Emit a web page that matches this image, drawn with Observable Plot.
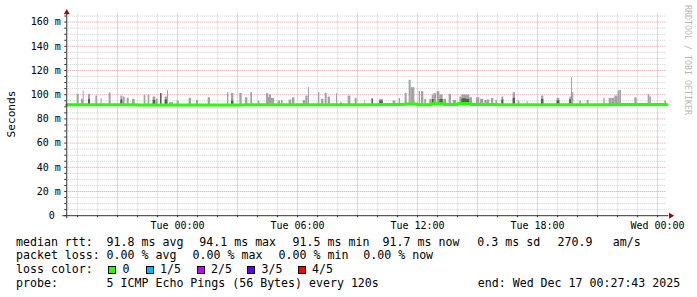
<!DOCTYPE html>
<html><head><meta charset="utf-8">
<script src="https://cdn.jsdelivr.net/npm/d3@7"></script>
<script src="https://cdn.jsdelivr.net/npm/@observablehq/plot@0.6"></script>
<style>
html,body{margin:0;padding:0;background:#fff;}
#wrap{position:relative;width:697px;height:297px;overflow:hidden;font-family:"DejaVu Sans Mono",monospace;background:#fff;}
#chart svg{display:block;}
.lg{position:absolute;font-size:11.6px;line-height:14px;white-space:pre;color:#000;}
.sw{position:absolute;box-sizing:border-box;width:8px;height:8px;border:1px solid #000;}
.ylab{position:absolute;font-size:11.2px;white-space:pre;color:#000;transform:translate(-50%,-50%) rotate(-90deg);}
.wm{position:absolute;font-size:8.3px;white-space:pre;color:#b8b8b8;transform:translate(-50%,-50%) rotate(90deg);}
</style></head><body>
<div id="wrap"><div id="chart"></div><div id="legend"></div></div>
<script>
// ---- time axis (minutes relative to Tue Dec 16 2025 00:00) ----
const xDomain = [-332.28, 1467.72]; // Mon 18:27:43 .. Wed 00:27:43
const yDomain = [0, 166.7];
const xTickMinutes = [0, 360, 720, 1080, 1440];
const xTickLabels = ["Tue 00:00", "Tue 06:00", "Tue 12:00", "Tue 18:00", "Wed 00:00"];
const yTickValues = [0, 20, 40, 60, 80, 100, 120, 140, 160];
const yTickLabels = ["0\u00a0", "20 m", "40 m", "60 m", "80 m", "100 m", "120 m", "140 m", "160 m"];

// ---- smoke spikes (start minute, width minutes, max ms, inner dark ms) ----
const spikeStart = [
  -301,-288,-283,-267,-245,-229,-205,-170,-163,-151,
  -135,-100,-88,-73,-63,-50,-37,-30,-24,-1,
  35,57,92,150,162,187,204,220,242,267,
  273,275,282,302,312,335,345,377,385,393,
  423,432,443,452,477,490,512,533,561,584,
  607,647,665,683,695,701,725,732,742,757,
  764,770,779,787,799,815,827,847,853,867,
  877,897,909,922,929,942,955,973,1007,1022,
  1049,1092,1139,1177,1182,1185,1207,1229,1279,1295,
  1303,1312,1322,1327,1372,1412,1417,1462];
const spikeWidth = [
  6,6,3,6,5,3,6,6,6,6,
  8,5,5,8,5,3,7,3,12,6,
  7,6,7,4,7,7,7,5,5,6,
  3,7,9,7,5,8,7,8,7,3,
  4,7,6,7,3,5,8,6,2,3,
  10,8,4,6,6,11,4,7,5,5,
  6,7,8,10,8,7,10,6,14,10,
  8,10,10,7,8,7,5,6,7,5,
  3,7,8,5,3,4,5,6,4,8,
  9,10,5,5,7,5,5,5];
const spikeMax = [
  100.3,96.2,103.1,100.3,98.9,97.0,101.4,98.9,98.1,97.0,
  96.2,99.5,99.8,98.1,96.2,100.9,98.1,103.6,93.4,94.8,
  97.0,95.3,97.5,101.7,101.1,101.1,97.5,101.7,94.8,100.9,
  97.5,99.8,97.0,94.8,95.3,95.6,97.5,95.3,98.9,105.8,
  101.7,96.2,101.1,98.1,100.9,93.4,98.9,97.0,95.3,96.6,
  96.2,94.8,97.0,101.1,111.9,105.8,102.5,102.5,96.2,96.2,
  99.8,100.9,102.5,99.8,96.2,100.3,95.3,98.1,99.8,99.8,
  97.5,97.5,96.2,95.3,95.6,97.0,95.3,98.1,101.7,94.8,
  94.2,98.9,97.0,98.1,114.1,101.7,94.8,95.3,97.0,97.0,
  97.0,98.9,103.1,103.6,97.5,100.3,98.1,94.8];
const spikeInner = [
  0,0,0,96.2,0,0,0,95.6,0,0,
  0,0,0,95.3,0,100.9,95.6,0,0,0,
  0,0,0,0,94.8,0,0,0,0,0,
  0,0,0,0,0,0,0,0,0,0,
  0,0,0,0,0,0,0,0,0,96.6,
  94.8,0,0,0,0,0,0,0,0,0,
  96.0,0,0,96.0,0,0,0,0,96.6,96.0,
  0,0,0,0,0,0,0,95.6,97.0,0,
  0,96.0,95.0,96.0,0,0,0,0,0,0,
  0,0,0,0,0,0,0,0];
const smokeBase = 91.0;

// ---- median rtt (step line) ----
const medianMinutes = [-333, -180, -120, 60, 200, 400, 600, 680, 720, 760, 800, 840, 880, 960, 1100, 1300, 1468];
const medianMs      = [91.6, 91.8, 91.5, 91.5, 91.8, 91.6, 91.9, 92.3, 91.8, 92.6, 92.0, 92.8, 92.0, 91.6, 91.7, 91.9, 91.8];

const spikes = spikeStart.map((s, i) => ({t: s, w: spikeWidth[i], max: spikeMax[i], inner: spikeInner[i]}));
const median = medianMinutes.map((t, i) => ({t, v: medianMs[i]}));

const hours = d3.range(-5, 25).map(h => h * 60);
const majorX = hours.filter(m => (m / 60) % 3 === 0);
const minorX = hours.filter(m => (m / 60) % 3 !== 0);
const fives = d3.range(0, 166, 5);
const majorY = fives.filter(v => v % 20 === 0 && v > 0);
const minorY = fives.filter(v => v % 20 !== 0);

const axisCol = "#333333";
const chart = Plot.plot({
  width: 697, height: 232,
  marginLeft: 66.24, marginRight: 30.76, marginTop: 13.5, marginBottom: 16.8,
  style: {fontFamily: '"DejaVu Sans Mono", monospace', fontSize: "10px", background: "#fff", color: "#000", overflow: "visible"},
  x: {domain: xDomain, axis: null, label: null},
  y: {domain: yDomain, axis: null, label: null},
  marks: [
    Plot.gridY(minorY, {stroke: "#cfcfcf", strokeOpacity: 1, strokeDasharray: "1,1"}),
    Plot.gridX(minorX, {stroke: "#cfcfcf", strokeOpacity: 1, strokeDasharray: "1,1"}),
    Plot.gridY(majorY, {stroke: "#e6a0a0", strokeOpacity: 1, strokeDasharray: "1,1"}),
    Plot.gridX(majorX, {stroke: "#e6a0a0", strokeOpacity: 1, strokeDasharray: "1,1"}),
    Plot.rectY(spikes, {x1: "t", x2: d => d.t + d.w, y1: smokeBase, y2: "max", fill: "#a3a3a3"}),
    Plot.rectY(spikes.filter(d => d.inner > 0), {x1: "t", x2: d => d.t + d.w, y1: smokeBase, y2: "inner", fill: d => d.inner >= d.max ? "#2a2a2a" : "#5a5a5a"}),
    Plot.line(median, {x: "t", y: "v", curve: "step-after", stroke: "#26ff00", strokeWidth: 3}),
    Plot.ruleX([xDomain[0]], {stroke: axisCol, insetBottom: -3}),
    Plot.ruleY([0], {stroke: axisCol, insetLeft: -4, insetRight: -2}),
    Plot.axisX({ticks: hours, tickSize: 2, tickFormat: () => "", stroke: axisCol, label: null}),
    Plot.axisY({ticks: fives, tickSize: 2, tickFormat: () => "", stroke: axisCol, label: null}),
    Plot.axisX({ticks: xTickMinutes, tickSize: 0, tickPadding: 6, fontSize: 10, label: null,
      tickFormat: d => xTickLabels[xTickMinutes.indexOf(d)]}),
    Plot.axisY({ticks: yTickValues, tickSize: 0, tickPadding: 6, fontSize: 10, label: null,
      tickFormat: d => yTickLabels[yTickValues.indexOf(d)]}),
    Plot.dot([0], {x: () => xDomain[0], y: () => yDomain[1], symbol: "triangle", r: 2.2, fill: "#8b1010", stroke: "none", dy: -1.5}),
    Plot.dot([0], {x: () => xDomain[1], y: () => 0, symbol: "triangle", r: 2.2, rotate: 90, fill: "#8b1010", stroke: "none", dx: 4})
  ]
});
document.getElementById("chart").appendChild(chart);

// ---- legend ----
const legendRows = [
  {y: 234.7, items: [[16, "median rtt:"], [106.6, "91.8 ms avg"], [199.3, "94.1 ms max"], [292.6, "91.5 ms min"], [382.6, "91.7 ms now"], [477.3, "0.3 ms sd"], [557.6, "270.9"], [612.8, "am/s"]]},
  {y: 248, items: [[16, "packet loss:"], [106.6, "0.00 % avg"], [192.6, "0.00 % max"], [278.6, "0.00 % min"], [363.3, "0.00 % now"]]},
  {y: 262.3, items: [[16, "loss color:"]]},
  {y: 276.3, items: [[16, "probe:"], [106.6, "5 ICMP Echo Pings (56 Bytes) every 120s"], [477.8, "end: Wed Dec 17 00:27:43 2025"]]}
];
const lossLabels = ["0", "1/5", "2/5", "3/5", "4/5"];
const lossColors = ["#26ff00", "#00b8ff", "#c600ff", "#5f00ff", "#ff0000"];
const lossSwatchX = [108.3, 145.7, 196.7, 247.3, 297.7];
const lossLabelX = [122.6, 160.0, 211.0, 261.6, 312.0];

const lg = document.getElementById("legend");
for (const row of legendRows) {
  for (const [x, t] of row.items) {
    const d = document.createElement("div");
    d.className = "lg"; d.style.left = x + "px"; d.style.top = row.y + "px"; d.textContent = t;
    lg.appendChild(d);
  }
}
lossLabels.forEach((t, i) => {
  const s = document.createElement("div");
  s.className = "sw"; s.style.left = lossSwatchX[i] + "px"; s.style.top = "265.5px"; s.style.background = lossColors[i];
  lg.appendChild(s);
  const d = document.createElement("div");
  d.className = "lg"; d.style.left = lossLabelX[i] + "px"; d.style.top = "262.3px"; d.textContent = t;
  lg.appendChild(d);
});
const yl = document.createElement("div");
yl.className = "ylab"; yl.style.left = "10.8px"; yl.style.top = "113.5px"; yl.textContent = "Seconds";
lg.appendChild(yl);
const wm = document.createElement("div");
wm.className = "wm"; wm.style.left = "687.5px"; wm.style.top = "60px"; wm.textContent = "RRDTOOL / TOBI OETIKER";
lg.appendChild(wm);
</script></body></html>
